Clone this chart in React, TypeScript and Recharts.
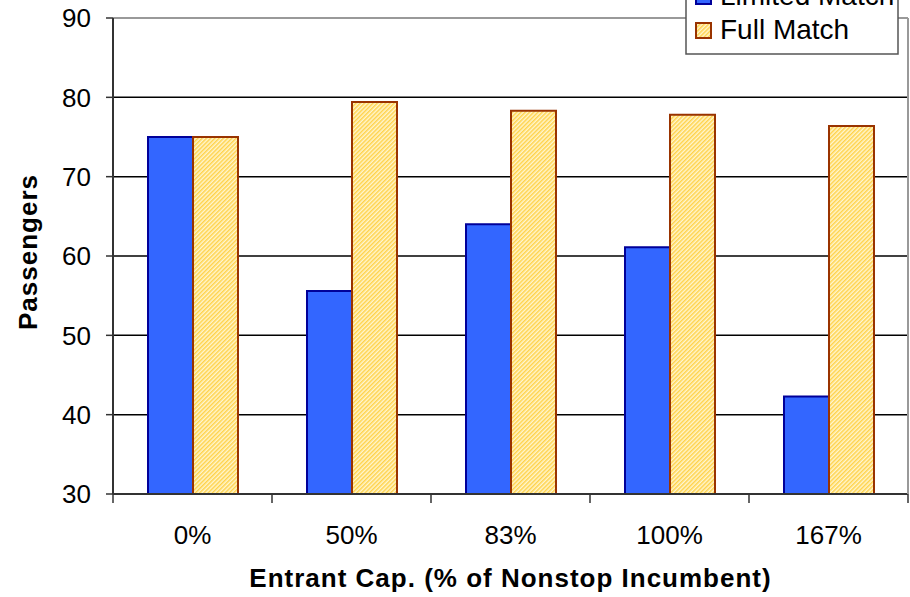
import React from "react";
import {
  BarChart,
  Bar,
  XAxis,
  YAxis,
  CartesianGrid,
  Legend,
  ReferenceLine,
} from "recharts";

const categories = ["0%", "50%", "83%", "100%", "167%"];
const limitedMatch = [75, 55.6, 64.0, 61.1, 42.3];
const fullMatch = [75, 79.4, 78.3, 77.8, 76.4];
const yTicks = [30, 40, 50, 60, 70, 80, 90];
const seriesNames = ["Limited Match", "Full Match"];

const FONT = "'Liberation Sans', Arial, sans-serif";
const BLUE = "#3366FF";
const BLUE_EDGE = "#000099";
const GOLD_EDGE = "#993300";

const data = categories.map((c, i) => ({
  cat: c,
  limited: limitedMatch[i],
  full: fullMatch[i],
}));

function XTick(props: any) {
  const { x, y, payload, index, visibleTicksCount } = props;
  const half = payload.offset ?? 79.5;
  const last = index === visibleTicksCount - 1;
  return (
    <g>
      <line x1={x - half} x2={x - half} y1={y} y2={y + 9} stroke="#333" strokeWidth={1.5} />
      {last && <line x1={x + half} x2={x + half} y1={y} y2={y + 9} stroke="#333" strokeWidth={1.5} />}
      <text x={x} y={y + 50} textAnchor="middle" fontSize={26} fontFamily={FONT} fill="#000">
        {payload.value}
      </text>
    </g>
  );
}

function LegendBox() {
  const fills = [BLUE, "url(#hatch)"];
  const edges = [BLUE_EDGE, GOLD_EDGE];
  return (
    <svg width={214} height={72} style={{ display: "block", overflow: "visible" }}>
      <rect x={1} y={1} width={212} height={70} fill="#fff" stroke="#555" strokeWidth={1.5} />
      {seriesNames.map((n, i) => (
        <g key={n}>
          <rect x={11} y={6 + i * 34} width={15} height={15} fill={fills[i]} stroke={edges[i]} strokeWidth={2} />
          <text x={35} y={22 + i * 34} fontSize={28} fontFamily={FONT} fill="#000">
            {n}
          </text>
        </g>
      ))}
    </svg>
  );
}

export default function App() {
  return (
    <div style={{ position: "absolute", left: 0, top: 0, background: "#fff" }}>
      <BarChart
        width={910}
        height={597}
        data={data}
        margin={{ top: 18, right: 1, bottom: 0, left: 0 }}
        barSize={45}
        barGap={0}
      >
        <defs>
          <pattern id="hatch" width={3} height={3} patternUnits="userSpaceOnUse" patternTransform="rotate(45)">
            <rect width={3} height={3} fill="#FFF6D0" />
            <rect width={1.5} height={3} fill="#FFD24A" />
          </pattern>
        </defs>
        <CartesianGrid vertical={false} stroke="#000" strokeWidth={1.5} />
        <XAxis
          dataKey="cat"
          height={103}
          tickSize={0}
          tickMargin={0}
          tickLine={false}
          axisLine={{ stroke: "#333", strokeWidth: 2 }}
          tick={<XTick />}
          interval={0}
          label={{
            content: (p: any) => {
              const vb = p.viewBox;
              return (
                <text
                  x={vb.x + vb.width / 2}
                  y={vb.y + 93}
                  textAnchor="middle"
                  fontSize={26}
                  fontWeight="bold"
                  letterSpacing={1}
                  fontFamily={FONT}
                  fill="#000"
                >
                  Entrant Cap. (% of Nonstop Incumbent)
                </text>
              );
            },
          }}
        />
        <YAxis
          width={113}
          domain={[30, 90]}
          ticks={yTicks}
          interval={0}
          tickSize={7}
          tickMargin={15}
          tickLine={{ stroke: "#333", strokeWidth: 1.5 }}
          axisLine={{ stroke: "#333", strokeWidth: 2 }}
          tick={{ fontSize: 26, fontFamily: FONT, fill: "#000" }}
          label={{
            content: (p: any) => {
              const vb = p.viewBox;
              const cx = 37;
              const cy = vb.y + vb.height / 2 - 4;
              return (
                <text
                  x={cx}
                  y={cy}
                  transform={`rotate(-90, ${cx}, ${cy})`}
                  textAnchor="middle"
                  fontSize={26}
                  fontWeight="bold"
                  letterSpacing={1}
                  fontFamily={FONT}
                  fill="#000"
                >
                  Passengers
                </text>
              );
            },
          }}
        />
        <YAxis
          yAxisId="r"
          orientation="right"
          width={1}
          domain={[30, 90]}
          tick={false}
          tickLine={false}
          axisLine={{ stroke: "#999", strokeWidth: 2 }}
        />
        <ReferenceLine y={90} stroke="#999" strokeWidth={2} />
        <Bar
          dataKey="limited"
          name={seriesNames[0]}
          fill={BLUE}
          stroke={BLUE_EDGE}
          strokeWidth={2}
          isAnimationActive={false}
        />
        <Bar
          dataKey="full"
          name={seriesNames[1]}
          fill="url(#hatch)"
          stroke={GOLD_EDGE}
          strokeWidth={2}
          isAnimationActive={false}
        />
        <Legend
          content={() => <LegendBox />}
          wrapperStyle={{ position: "absolute", left: 685, top: -17, width: 214, height: 0, overflow: "visible" }}
        />
      </BarChart>
    </div>
  );
}
